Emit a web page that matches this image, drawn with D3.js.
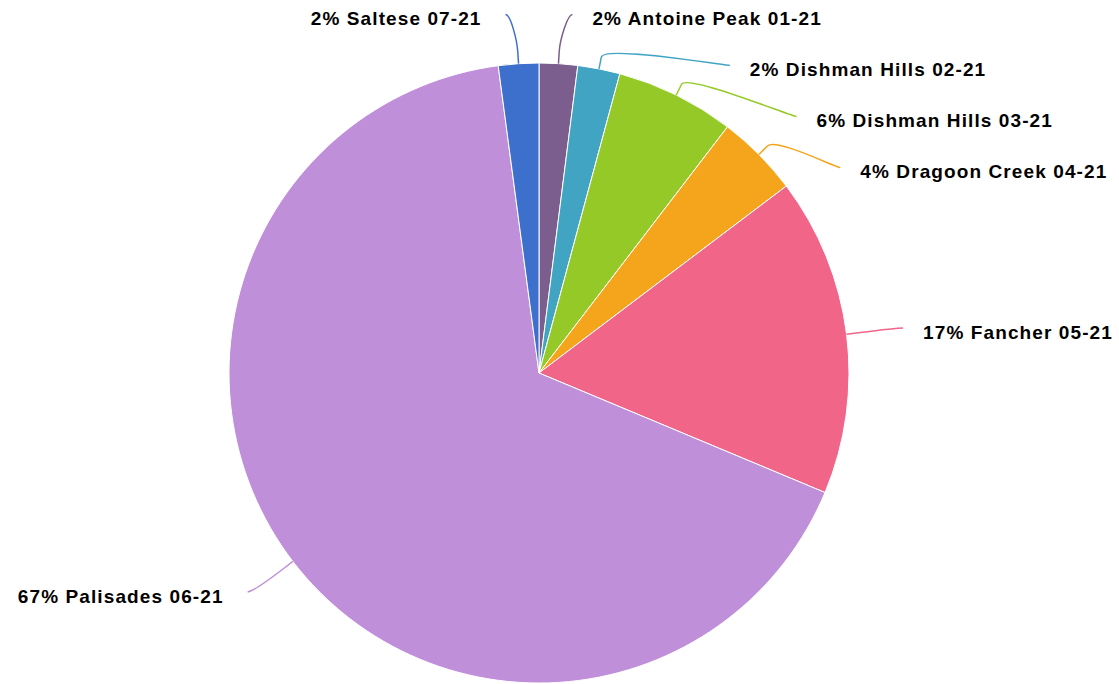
<!DOCTYPE html>
<html>
<head>
<meta charset="utf-8">
<script src="https://cdn.jsdelivr.net/npm/d3@7"></script>
<style>
  body { margin: 0; background: #fff; }
  svg { display: block; }
</style>
</head>
<body>
<div id="chart"></div>
<script>
// hikes per trail (share of total)
var names = ["Antoine Peak 01-21", "Dishman Hills 02-21", "Dishman Hills 03-21",
             "Dragoon Creek 04-21", "Fancher 05-21", "Palisades 06-21", "Saltese 07-21"];
var values = [2.0, 2.2, 6.2, 4.3, 16.6, 66.6, 2.1];
var colors = ["#7b5e8e", "#40a4c2", "#95c927", "#f5a51c", "#f06588", "#bf8fda", "#3d6fcc"];

var width = 1119, height = 684;
var cx = 539, cy = 373, radius = 310;
var labelA = 367, labelB = 360;   // ellipse the connector ends sit on
var minY = 14.5, gap = 51;

var data = names.map((n, i) => ({name: n, value: values[i], color: colors[i]}));
var total = d3.sum(values);
var pct = d3.format(".0%");

var svg = d3.select("#chart")
            .append("svg")
            .attr("width", width)
            .attr("height", height);

var g = svg.append("g")
            .attr("transform", "translate(" + cx + "," + cy + ")");

var pie = d3.pie().sort(null).value(d => d.value);
var arcs = pie(data);

var arc = d3.arc().innerRadius(0).outerRadius(radius);

g.selectAll("path.slice")
    .data(arcs)
    .enter()
    .append("path")
    .attr("class", "slice")
    .attr("d", arc)
    .attr("fill", d => d.data.color)
    .attr("stroke", "#fff")
    .attr("stroke-width", 1)
    .attr("stroke-linejoin", "round");

// label layout: natural y from mid angle, then pushed down to avoid overlap
arcs.forEach(d => {
    d.mid = (d.startAngle + d.endAngle) / 2;
    d.right = d.mid < Math.PI;
    d.ly = -labelB * Math.cos(d.mid);
});

function spread(list) {
    var prev = -Infinity;
    list.forEach(d => {
        var y = Math.max(d.ly, minY - cy, prev + gap);
        d.ly = y;
        prev = y;
    });
}
spread(arcs.filter(d => d.right).sort((a, b) => a.mid - b.mid));
spread(arcs.filter(d => !d.right).sort((a, b) => b.mid - a.mid));

arcs.forEach(d => {
    var t = Math.min(1, Math.abs(d.ly / labelB));
    var dx = labelA * Math.sqrt(1 - t * t);
    d.lx = d.right ? dx : -dx;
});

function polar(r, a) { return [r * Math.sin(a), -r * Math.cos(a)]; }

var line = g.selectAll("path.connector")
    .data(arcs)
    .enter()
    .append("path")
    .attr("class", "connector")
    .attr("fill", "none")
    .attr("stroke", d => d.data.color)
    .attr("stroke-width", 1.5)
    .attr("d", d => {
        var touch = polar(radius, d.mid);
        var brk = polar(radius + 12, d.mid);
        var c1x = d.lx + (d.right ? -5 : 5);
        return "M" + d.lx + "," + d.ly +
               "C" + c1x + "," + d.ly + " " +
               (2 * brk[0] - touch[0]) + "," + (2 * brk[1] - touch[1]) + " " +
               brk[0] + "," + brk[1] +
               "L" + touch[0] + "," + touch[1];
    });

g.selectAll("text.label")
    .data(arcs)
    .enter()
    .append("text")
    .attr("class", "label")
    .attr("x", d => d.right ? d.lx + 20 : d.lx - 24)
    .attr("y", d => d.ly + 4)
    .attr("dy", "0.35em")
    .attr("text-anchor", d => d.right ? "start" : "end")
    .style("font-family", "'Liberation Sans', Arial, Helvetica, sans-serif")
    .style("font-weight", "bold")
    .style("font-size", "19px")
    .style("letter-spacing", "1.1px")
    .style("fill", "#000")
    .text(d => pct(d.data.value / total) + " " + d.data.name);
</script>
</body>
</html>
